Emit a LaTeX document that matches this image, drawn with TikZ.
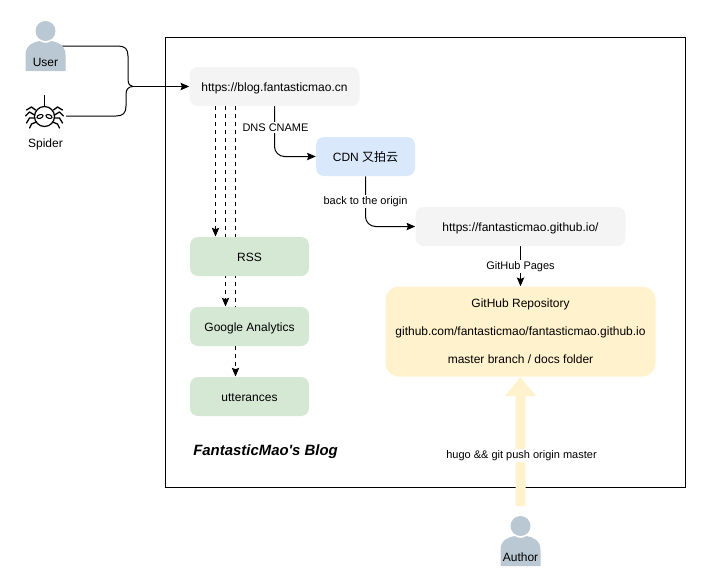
\documentclass[tikz,border=0pt]{standalone}
\usepackage{fontspec}
\setmainfont{Liberation Sans}
\newfontfamily\cjkfont{Noto Sans CJK SC}
\usetikzlibrary{arrows.meta,backgrounds}
\newcommand{\BlogUnit}{0.75pt}

\tikzset{
	box/.style={rounded corners=6pt, minimum height=29.25pt, inner sep=0pt, font=\fontsize{9}{11}\selectfont},
	linebox/.style={box, text height=9.5pt, text depth=2pt},
	greybox/.style={linebox, fill=black!4.5},
	greenbox/.style={linebox, fill={rgb,255:red,213;green,232;blue,212}, minimum width=89.25pt},
	edge/.style={draw=black, line width=0.75pt, rounded corners=7.5pt, -{Stealth[length=6.5pt,width=5.5pt,inset=1pt]}},
	dashededge/.style={edge, dashed, dash pattern=on 3pt off 3pt},
	edgelabel/.style={fill=white, inner sep=1pt, font=\fontsize{8.25}{10}\selectfont},
	person/.style={fill={rgb,255:red,186;green,200;blue,211}, draw=none},
	spiderleg/.style={line width=1pt, line join=round, line cap=round},
}
\newcommand{\PersonIcon}[3]{
	\fill[person] (#1,#2-0) circle (10);
	\fill[person] (#1-20,#2+40) -- (#1-20,#2+24) .. controls (#1-20,#2+14) and (#1-12,#2+11) .. (#1-6,#2+10)
		.. controls (#1-2,#2+12.5) and (#1+2,#2+12.5) .. (#1+6,#2+10)
		.. controls (#1+12,#2+11) and (#1+20,#2+14) .. (#1+20,#2+24) -- (#1+20,#2+40) -- cycle;
	\node[font=\fontsize{9}{11}\selectfont] at (#1,#2+31) {#3};
}

\begin{document}
\begin{tikzpicture}[x=\BlogUnit, y=-\BlogUnit]
	\useasboundingbox (0,0) rectangle (706,587);
	% boxes
	\node[greybox, minimum width=127.5pt] (blog) at (274.5,86.5) {https://blog.fantasticmao.cn};
	\node[linebox, fill={rgb,255:red,218;green,232;blue,252}, minimum width=74.25pt] (cdn) at (365.5,156.5) {CDN {\cjkfont 又拍云}};
	\node[greybox, minimum width=157.5pt] (pages) at (520.5,226.5) {https://fantasticmao.github.io/};
	\node[box, fill={rgb,255:red,255;green,242;blue,204}, rounded corners=10pt, minimum width=202.5pt, minimum height=67.5pt,
		align=center, font=\fontsize{9}{21}\selectfont] (repo) at (520.5,331.5) {GitHub Repository\\github.com/fantasticmao/fantasticmao.github.io\\master branch / docs folder};
	\node[greenbox] (rss) at (249.5,256.5) {RSS};
	\node[greenbox] (analytics) at (249.5,326.5) {Google Analytics};
	\node[greenbox] (utterances) at (249.5,396.5) {utterances};
	\node[font=\fontsize{11.2}{13}\selectfont\bfseries\itshape, anchor=west, inner sep=0pt] (title) at (193,452) {FantasticMao\textquotesingle s Blog};
	% people
	\PersonIcon{45.5}{31}{User}
	\PersonIcon{520.5}{526}{Author}
	% spider
	\coordinate (spider) at (44.5,116.5);
	\draw[line width=0.9pt] (spider) circle (10);
	\draw[line width=0.9pt] (44.5,106.5) -- (44.5,95);
	\foreach \s in {-1,1} {
		\draw[spiderleg] (44.5+\s*9,110) -- (44.5+\s*13,107) -- (44.5+\s*18,110);
		\draw[spiderleg] (44.5+\s*10,115) -- (44.5+\s*15,112) -- (44.5+\s*19,116);
		\draw[spiderleg] (44.5+\s*10,118) -- (44.5+\s*15,118) -- (44.5+\s*18,123);
		\draw[spiderleg] (44.5+\s*8,122) -- (44.5+\s*13,124) -- (44.5+\s*15,128);
		\draw[line width=0.8pt, rotate around={\s*(-20):(44.5+\s*4.5,116.5)}] (44.5+\s*4.5,116.5) ellipse (3.2 and 1.8);
	}
	\node[font=\fontsize{9}{11}\selectfont] (spiderlabel) at (45.5,144) {Spider};
	\coordinate (spiderout) at (66,116);
	\coordinate (userout) at (62,46);
	\coordinate (merge) at (133,86.5);
	% connectors
	\begin{scope}[on background layer]
		\draw[line width=0.75pt] (165.5,37) rectangle (685.5,487);
		\draw[line width=0.75pt] (userout) -- (118,46) .. controls (125,46) and (128,49) .. (128,56) -- (128,79) .. controls (128,84) and (130,86.5) .. (merge);
		\draw[line width=0.75pt] (spiderout) -- (116,116) .. controls (123,116) and (126,113) .. (126,106) -- (126,94) .. controls (126,89) and (129,86.5) .. (merge);
		\draw[edge] (merge) -- (blog.west);
		\draw[dashededge] (215.5,106) -- (215.5,236.5);
		\draw[dashededge] (225.5,106) -- (225.5,306.5);
		\draw[dashededge] (235.5,106) -- (235.5,376.5);
		\draw[edge] (274.5,106) |- (cdn.west);
		\draw[edge] (cdn.south) |- (pages.west);
		\draw[edge] (pages.south) -- (repo.north);
		\draw[draw=none, fill={rgb,255:red,255;green,242;blue,204}] (515.5,506) -- (515.5,396) -- (505,396) -- (520.5,377) -- (536,396) -- (525.5,396) -- (525.5,506) -- cycle;
	\end{scope}
	% labels
	\node[edgelabel] (dnslabel) at (275.5,127.5) {DNS CNAME};
	\node[edgelabel] (originlabel) at (365.5,201.5) {back to the origin};
	\node[edgelabel] (pageslabel) at (520.5,266.5) {GitHub Pages};
	\node[edgelabel] (pushlabel) at (521.5,455.5) {hugo \&\& git push origin master};
\end{tikzpicture}
\end{document}
